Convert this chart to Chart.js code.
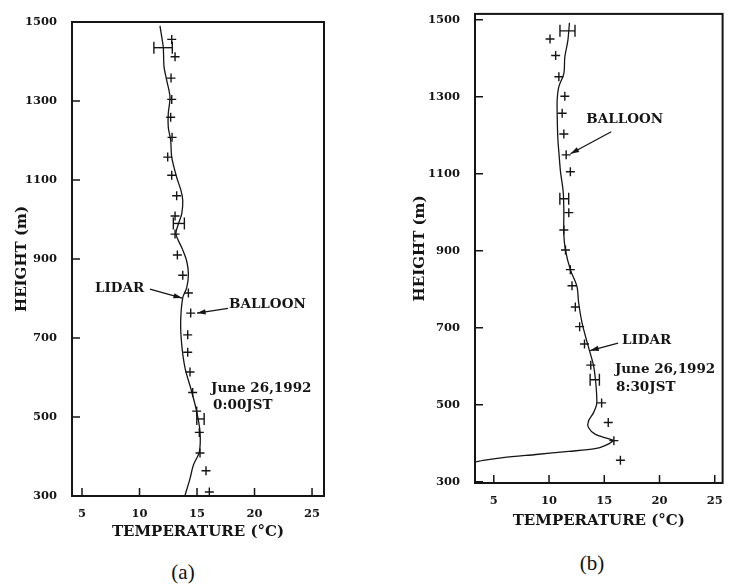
<!DOCTYPE html>
<html>
<head>
<meta charset="utf-8">
<script src="https://cdn.jsdelivr.net/npm/chart.js@4/dist/chart.umd.min.js"></script>
<style>
  body { margin: 0; background: #fff; width: 730px; height: 585px; position: relative; overflow: hidden; }
  canvas { position: absolute; top: 0; }
  .cap { position: absolute; font: 21px "Liberation Serif", serif; color: #111; transform: translate(-50%, -50%); }
</style>
</head>
<body>
<canvas id="chartA" width="345" height="550" style="left:0"></canvas>
<canvas id="chartB" width="365" height="550" style="left:365px"></canvas>
<div class="cap" style="left:183px; top:572px">(a)</div>
<div class="cap" style="left:592px; top:563px">(b)</div>
<script>
const xTicks = [5, 10, 15, 20, 25];
const yTicks = [300, 500, 700, 900, 1100, 1300, 1500];

// (a) June 26, 1992  0:00 JST
const lidarHeightA = [1490, 1463, 1435, 1387, 1353, 1310, 1268, 1234, 1200, 1158, 1107, 1073, 1048, 1014, 988, 963, 929, 895, 861, 827, 802, 742, 683, 624, 564, 514, 463, 412, 378, 344, 302];
const lidarTempA = [11.78, 11.93, 12.07, 12.13, 12.36, 12.65, 12.5, 12.5, 12.71, 12.8, 13.23, 13.61, 13.76, 13.67, 13.37, 13.17, 13.67, 14.1, 14.25, 14.1, 13.76, 13.58, 13.67, 13.96, 14.54, 14.97, 15.26, 15.2, 14.68, 14.39, 13.96];
const balloonHeightA = [1456, 1412, 1358, 1304, 1259, 1208, 1158, 1112, 1060, 1009, 963, 910, 859, 814, 763, 708, 664, 614, 562, 515, 461, 409, 364, 310];
const balloonTempA = [12.8, 13.09, 12.74, 12.8, 12.71, 12.83, 12.45, 12.8, 13.23, 13.09, 13.09, 13.29, 13.76, 14.25, 14.45, 14.19, 14.19, 14.39, 14.62, 14.97, 15.2, 15.26, 15.78, 16.07];
const errHeightA = [1435, 990, 495];
const errTempA = [12.05, 13.42, 15.3];
const errHalfA = [0.8, 0.48, 0.32];

// (b) June 26, 1992  8:30 JST
const lidarHeightB = [1492, 1445, 1403, 1360, 1326, 1292, 1250, 1190, 1156, 1105, 1054, 1003, 943, 901, 850, 807, 765, 714, 662, 603, 560, 526, 501, 479, 458, 441, 424, 412, 407, 394, 386, 379, 371, 363, 356, 352];
const lidarTempB = [11.85, 11.7, 11.43, 11.34, 10.89, 10.74, 10.74, 10.8, 10.89, 11.04, 11.28, 11.34, 11.34, 11.49, 11.94, 12.53, 12.68, 12.98, 13.45, 14.02, 14.22, 14.31, 14.31, 14.02, 13.57, 13.57, 14.17, 15.36, 15.8, 15.06, 14.17, 11.79, 8.81, 5.83, 4.04, 3.4];
const balloonHeightB = [1450, 1407, 1352, 1301, 1257, 1203, 1149, 1105, 999, 954, 902, 851, 809, 754, 703, 658, 603, 505, 454, 407, 356];
const balloonTempB = [10.09, 10.6, 10.89, 11.43, 11.19, 11.34, 11.55, 11.93, 11.79, 11.34, 11.49, 11.93, 12.08, 12.38, 12.77, 13.21, 13.78, 14.76, 15.36, 15.87, 16.46];
const errHeightB = [1471, 1035, 565];
const errTempB = [11.67, 11.38, 14.14];
const errHalfB = [0.68, 0.4, 0.42];

const notesA = [
  { text: "LIDAR", t: 6.13, h: 826 },
  { text: "BALLOON", t: 17.78, h: 786 },
  { text: "June 26,1992", t: 16.22, h: 572 },
  { text: "0:00JST", t: 16.4, h: 529 }
];
const arrowsA = [
  { from: [10.91, 824], to: [13.7, 801] },
  { from: [17.7, 775], to: [15.0, 763] }
];
const notesB = [
  { text: "BALLOON", t: 13.37, h: 1242 },
  { text: "LIDAR", t: 16.6, h: 668 },
  { text: "June 26,1992", t: 15.96, h: 591 },
  { text: "8:30JST", t: 16.07, h: 545 }
];
const arrowsB = [
  { from: [15.63, 1209], to: [11.94, 1152] },
  { from: [16.25, 660], to: [13.72, 641] }
];

const INK = "#151515";
const SERIF = "'DejaVu Serif', serif";

function pairs(xs, ys) {
  return ys.map((y, i) => ({ x: xs[i], y: y }));
}

// frame, inward tick marks, labels and arrows
const decor = {
  id: "decor",
  afterDraw(chart, args, opts) {
    const ctx = chart.ctx;
    const a = chart.chartArea;
    const sx = chart.scales.x, sy = chart.scales.y;
    ctx.save();
    ctx.strokeStyle = INK;
    ctx.lineWidth = 2;
    ctx.strokeRect(a.left, a.top, a.right - a.left, a.bottom - a.top);
    ctx.lineWidth = 1.5;
    ctx.beginPath();
    xTicks.forEach(v => {
      const px = sx.getPixelForValue(v);
      ctx.moveTo(px, a.bottom);
      ctx.lineTo(px, a.bottom - 8);
    });
    yTicks.forEach(v => {
      const py = sy.getPixelForValue(v);
      ctx.moveTo(a.left, py);
      ctx.lineTo(a.left + 8, py);
    });
    ctx.stroke();

    ctx.fillStyle = INK;
    ctx.font = "bold 13.5px " + SERIF;
    ctx.textAlign = "left";
    ctx.textBaseline = "middle";
    opts.notes.forEach(n => {
      ctx.fillText(n.text, sx.getPixelForValue(n.t), sy.getPixelForValue(n.h));
    });

    ctx.lineWidth = 1.3;
    opts.arrows.forEach(ar => {
      const x0 = sx.getPixelForValue(ar.from[0]), y0 = sy.getPixelForValue(ar.from[1]);
      const x1 = sx.getPixelForValue(ar.to[0]), y1 = sy.getPixelForValue(ar.to[1]);
      const ang = Math.atan2(y1 - y0, x1 - x0);
      ctx.beginPath();
      ctx.moveTo(x0, y0);
      ctx.lineTo(x1, y1);
      ctx.stroke();
      ctx.beginPath();
      ctx.moveTo(x1, y1);
      ctx.lineTo(x1 - 9 * Math.cos(ang - 0.3), y1 - 9 * Math.sin(ang - 0.3));
      ctx.lineTo(x1 - 9 * Math.cos(ang + 0.3), y1 - 9 * Math.sin(ang + 0.3));
      ctx.closePath();
      ctx.fill();
    });
    ctx.restore();
  }
};

function makeChart(id, p) {
  const datasets = [
    {
      data: pairs(p.lidarT, p.lidarH),
      showLine: true,
      pointRadius: 0,
      borderColor: INK,
      borderWidth: 1.3,
      tension: 0.3
    },
    {
      data: pairs(p.balloonT, p.balloonH),
      pointStyle: "cross",
      pointRadius: 4.5,
      borderColor: INK,
      borderWidth: 1.4
    }
  ];
  p.errH.forEach((h, i) => {
    datasets.push({
      data: [{ x: p.errT[i] - p.errD[i], y: h }, { x: p.errT[i] + p.errD[i], y: h }],
      showLine: true,
      pointStyle: "line",
      rotation: 90,
      pointRadius: 6,
      borderColor: INK,
      borderWidth: 1.4
    });
  });

  const tickFont = { family: SERIF, weight: "bold", size: 11.5 };
  const titleFont = { family: SERIF, weight: "bold", size: 15 };

  new Chart(document.getElementById(id), {
    type: "scatter",
    data: { datasets: datasets },
    plugins: [decor],
    options: {
      responsive: false,
      animation: false,
      devicePixelRatio: 1,
      layout: { padding: p.pad },
      plugins: {
        legend: { display: false },
        tooltip: { enabled: false },
        decor: { notes: p.notes, arrows: p.arrows }
      },
      scales: {
        x: {
          type: "linear",
          min: p.xMin,
          max: p.xMax,
          grid: { display: false },
          border: { display: false },
          afterBuildTicks: s => { s.ticks = xTicks.map(v => ({ value: v })); },
          afterFit: s => { s.height = p.xHeight; },
          ticks: { color: INK, padding: 3, font: tickFont, callback: v => String(v) },
          title: {
            display: true,
            text: "TEMPERATURE (°C)",
            color: INK,
            padding: { top: 0, bottom: p.xTitlePad },
            font: titleFont
          }
        },
        y: {
          type: "linear",
          min: p.yMin,
          max: p.yMax,
          grid: { display: false },
          border: { display: false },
          afterBuildTicks: s => { s.ticks = yTicks.map(v => ({ value: v })); },
          afterFit: s => { s.width = p.yWidth; },
          ticks: { color: INK, padding: 7, font: tickFont, callback: v => String(v) },
          title: {
            display: true,
            text: "HEIGHT (m)",
            color: INK,
            padding: { top: p.yTitlePad, bottom: 0 },
            font: titleFont
          }
        }
      }
    }
  });
}

makeChart("chartA", {
  lidarT: lidarTempA, lidarH: lidarHeightA,
  balloonT: balloonTempA, balloonH: balloonHeightA,
  errT: errTempA, errH: errHeightA, errD: errHalfA,
  notes: notesA, arrows: arrowsA,
  xMin: 4.13, xMax: 26.04, yMin: 300, yMax: 1500,
  pad: { top: 22, right: 21, left: 0, bottom: 0 },
  yWidth: 72, xHeight: 54, xTitlePad: 9, yTitlePad: 13
});

makeChart("chartB", {
  lidarT: lidarTempB, lidarH: lidarHeightB,
  balloonT: balloonTempB, balloonH: balloonHeightB,
  errT: errTempB, errH: errHeightB, errD: errHalfB,
  notes: notesB, arrows: arrowsB,
  xMin: 3.3, xMax: 25.71, yMin: 297, yMax: 1515,
  pad: { top: 6, right: 4, left: 0, bottom: 0 },
  yWidth: 110, xHeight: 67, xTitlePad: 20, yTitlePad: 46
});
</script>
</body>
</html>
